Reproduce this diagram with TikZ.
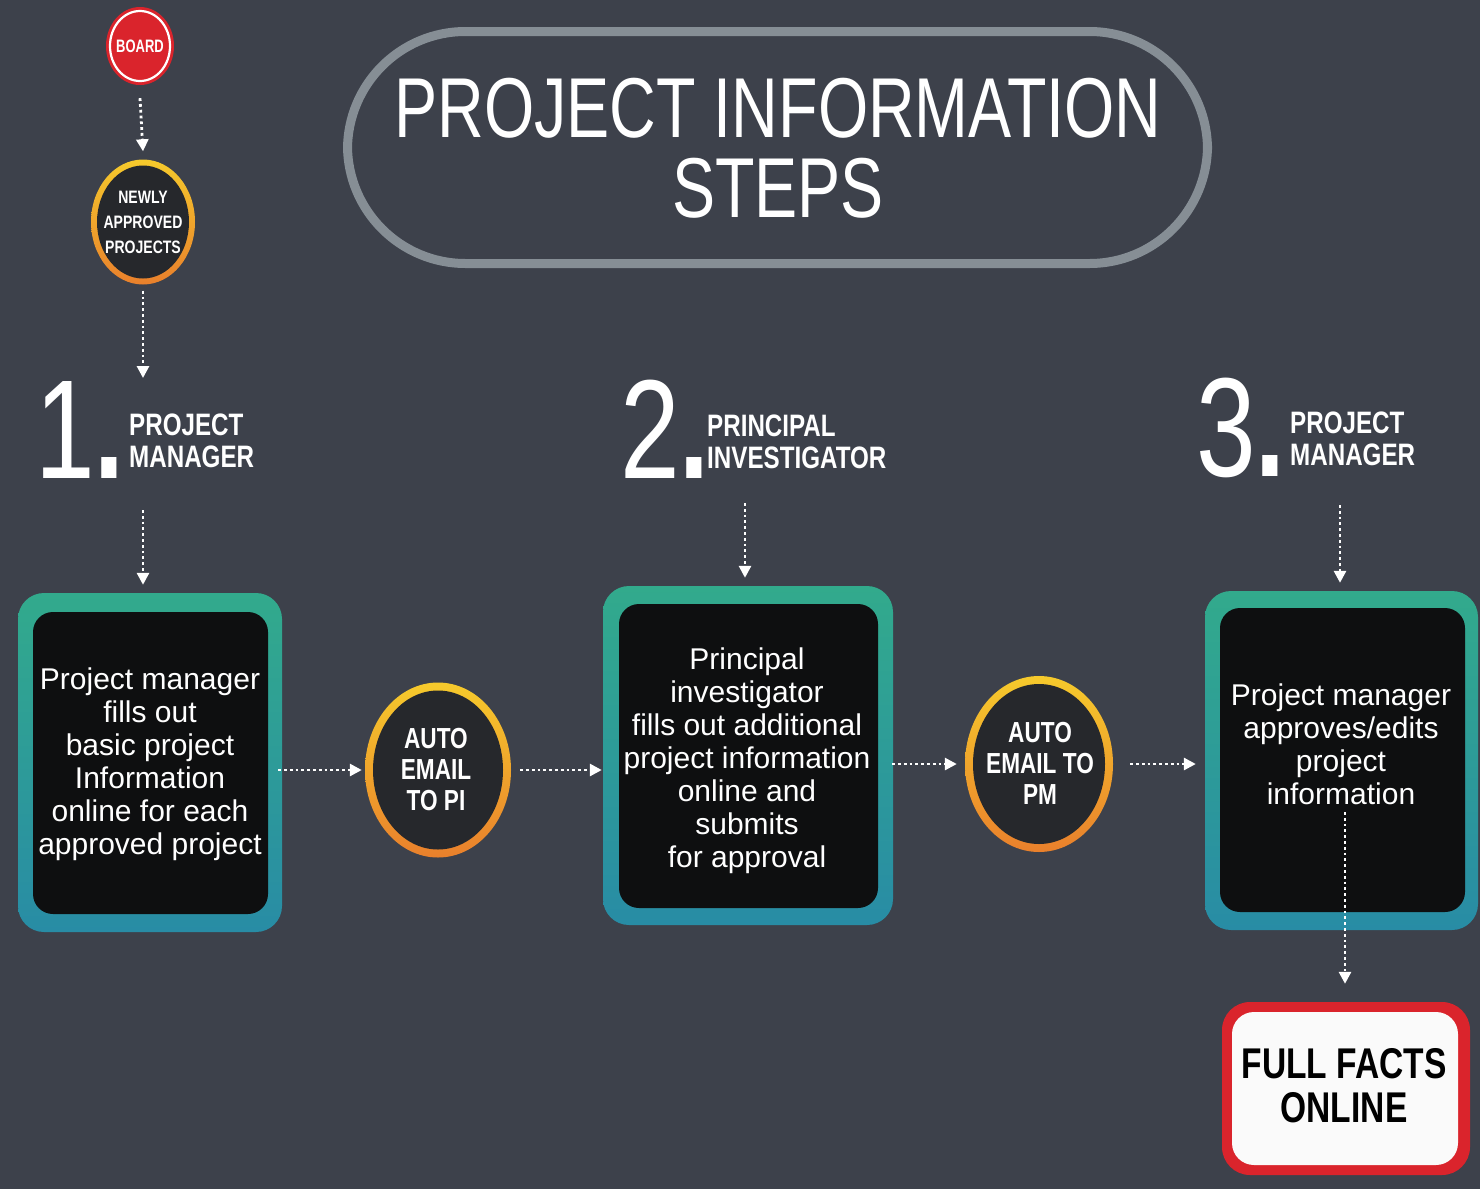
\documentclass[tikz,border=0pt]{standalone}
\usepackage{fontspec}
\setmainfont{Liberation Sans}
\newfontfamily\condfont[FakeStretch=0.78]{Liberation Sans}
\newfontfamily\boardfont[FakeStretch=0.72]{Liberation Sans}
\newfontfamily\titlefont[FakeStretch=0.76]{Liberation Sans}
\newfontfamily\numfont[FakeStretch=0.76]{Liberation Sans}
\usetikzlibrary{arrows.meta,shapes.geometric}
\definecolor{bgC}{RGB}{61,65,75}
\definecolor{tealTop}{RGB}{50,170,140}
\definecolor{tealBot}{RGB}{40,140,165}
\definecolor{innerK}{RGB}{14,15,16}
\definecolor{ringY}{RGB}{246,202,44}
\definecolor{ringO}{RGB}{233,128,44}
\definecolor{discC}{RGB}{38,40,44}
\definecolor{redC}{RGB}{218,36,44}
\definecolor{grayR}{RGB}{134,142,149}
\definecolor{ffWhite}{RGB}{250,250,250}
\begin{document}
\begin{tikzpicture}[x=1pt,y=-1pt,
  ring/.style={ellipse, inner sep=0pt, top color=ringY, bottom color=ringO},
  disc/.style={ellipse, inner sep=0pt, fill=discC},
  disctext/.style={text=white, align=center, inner sep=0pt},
  outerbox/.style={rectangle, rounded corners=26pt, top color=tealTop, bottom color=tealBot, inner sep=0pt},
  innerbox/.style={rectangle, rounded corners=20pt, fill=innerK, inner sep=0pt},
  boxtext/.style={text=white, align=center, inner sep=0pt, font=\fontsize{30}{33}\selectfont},
  headlabel/.style={text=white, align=left, inner sep=0pt, anchor=base west, font=\condfont\bfseries\fontsize{31}{32}\selectfont},
  headnum/.style={text=white, inner sep=0pt, anchor=base west, font=\numfont\fontsize{141}{141}\selectfont},
  flow/.style={white, line width=2.8pt, dash pattern=on 2.8pt off 3pt, -{Triangle[length=12pt,width=12pt]}}
]
% background
\fill[bgC] (0,0) rectangle (1480,1189);
\useasboundingbox (0,0) rectangle (1480,1189);

% title
\node[draw=grayR, line width=9pt, rectangle, rounded corners=118pt, minimum width=860pt, minimum height=232pt, inner sep=0pt] (titlebox) at (777.5,147.5) {};
\node[text=white, align=center, inner sep=0pt, font=\titlefont\fontsize{85}{80}\selectfont] (title) at (778,148) {PROJECT INFORMATION\\STEPS};

% board
\node[ellipse, fill=redC, minimum width=68pt, minimum height=78pt, inner sep=0pt] (board) at (140,46) {};
\node[ellipse, draw=white, line width=2.2pt, fill=redC, minimum width=60pt, minimum height=70pt, inner sep=0pt] (boardring) at (140,46) {};
\node[disctext, font=\boardfont\bfseries\fontsize{18}{18}\selectfont] (boardtxt) at (140,46) {BOARD};

% newly approved
\node[ring, minimum width=104pt, minimum height=125pt] (newly) at (143,222) {};
\node[disc, minimum width=92pt, minimum height=113pt] (newlyin) at (143,222) {};
\node[disctext, font=\condfont\bfseries\fontsize{18}{25}\selectfont] (newlytxt) at (143,222) {NEWLY\\APPROVED\\PROJECTS};

% headings
\node[headnum] (n1) at (35,478) {1\textbf{.}};
\node[headlabel] (l1) at (129,467) {PROJECT\\MANAGER};
\node[headnum] (n2) at (620,478) {2\textbf{.}};
\node[headlabel] (l2) at (707,468) {PRINCIPAL\\INVESTIGATOR};
\node[headnum] (n3) at (1196,476) {3\textbf{.}};
\node[headlabel] (l3) at (1290,465) {PROJECT\\MANAGER};

\coordinate (h1top) at (143,378);
\coordinate (h1bot) at (143,510);
\coordinate (h2bot) at (745,503);
\coordinate (h3bot) at (1340,505);

% box 1
\node[outerbox, minimum width=264pt, minimum height=339pt] (b1) at (150,762.5) {};
\node[innerbox, minimum width=235pt, minimum height=302pt] (b1in) at (150.5,763) {};
\node[boxtext] (t1) at (150,764) {Project manager\\fills out\\basic project\\Information\\online for each\\approved project};

% box 2
\node[outerbox, minimum width=290pt, minimum height=339pt] (b2) at (748,755.5) {};
\node[innerbox, minimum width=259pt, minimum height=304pt] (b2in) at (748.5,756) {};
\node[boxtext] (t2) at (747,761) {Principal\\investigator\\fills out additional\\project information\\online and\\submits\\for approval};

% box 3
\node[outerbox, minimum width=273pt, minimum height=339pt] (b3) at (1341.5,760.5) {};
\node[innerbox, minimum width=245pt, minimum height=304pt] (b3in) at (1342.5,760) {};
\node[boxtext] (t3) at (1341,744) {Project manager\\approves/edits\\project\\information};
\coordinate (b3src) at (1345,812);

% auto email circles
\node[ring, minimum width=146pt, minimum height=175pt] (r1) at (438,770) {};
\node[disc, minimum width=130pt, minimum height=159pt] (r1in) at (438,770) {};
\node[disctext, font=\condfont\bfseries\fontsize{29}{31}\selectfont] (r1txt) at (436,770) {AUTO\\EMAIL\\TO PI};
\node[ring, minimum width=148pt, minimum height=176pt] (r2) at (1039,764) {};
\node[disc, minimum width=132pt, minimum height=160pt] (r2in) at (1039,764) {};
\node[disctext, font=\condfont\bfseries\fontsize{29}{31}\selectfont] (r2txt) at (1040,763) {AUTO\\EMAIL TO\\PM};

% full facts online
\node[rectangle, rounded corners=28pt, fill=redC, minimum width=248pt, minimum height=173pt, inner sep=0pt] (ff) at (1346,1088.5) {};
\node[rectangle, rounded corners=22pt, fill=ffWhite, minimum width=226pt, minimum height=153pt, inner sep=0pt] (ffin) at (1345,1088.5) {};
\node[text=black, align=center, inner sep=0pt, font=\condfont\bfseries\fontsize{43}{44}\selectfont] (fftxt) at (1344,1086) {FULL FACTS\\ONLINE};

% connectors
\draw[flow] ([yshift=-13pt]board.south) -- ([yshift=8pt]newly.north);
\draw[flow] ([yshift=-6pt]newly.south) -- (h1top);
\draw[flow] (h1bot) -- ([yshift=8pt]h1bot |- b1.north);
\draw[flow] (h2bot) -- ([yshift=8pt]h2bot |- b2.north);
\draw[flow] (h3bot) -- ([yshift=8pt]h3bot |- b3.north);
\draw[flow] ([xshift=-4pt]b1.east |- r1.west) -- ([xshift=-3pt]r1.west);
\draw[flow] ([xshift=9pt]r1.east) -- ([xshift=-1pt]b2.west |- r1.east);
\draw[flow] ([xshift=-1pt]b2.east |- r2.west) -- ([xshift=-8pt]r2.west);
\draw[flow] ([xshift=17pt]r2.east) -- ([xshift=-9pt]b3.west |- r2.east);
\draw[flow] (b3src) -- ([yshift=18pt]b3src |- ff.north);
\end{tikzpicture}
\end{document}
